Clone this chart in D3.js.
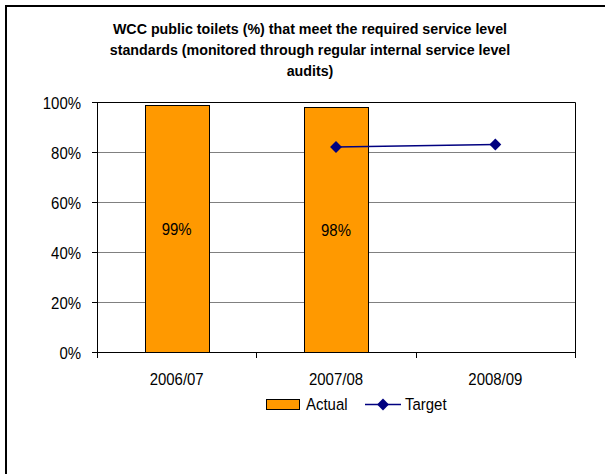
<!DOCTYPE html>
<html>
<head>
<meta charset="utf-8">
<script src="https://cdn.jsdelivr.net/npm/d3@7"></script>
<style>
  html, body { margin: 0; padding: 0; background: #fff; }
  svg { display: block; }
  text { font-family: "Liberation Sans", Arial, sans-serif; fill: #000; }
</style>
</head>
<body>
<svg id="chart" width="605" height="474"></svg>
<script>
// Chart data
const categories = ["2006/07", "2007/08", "2008/09"];
const actualValues = [99, 98, null];
const targetValues = [null, 82, 83];
const yTicks = [0, 20, 40, 60, 80, 100];
const titleLines = [
  "WCC public toilets (%) that meet the required service level",
  "standards (monitored through regular internal service level",
  "audits)"
];

const svg = d3.select("#chart");
const W = 605, H = 474;
const margin = { left: 97, right: 30, top: 102, bottom: 122 };
const plotW = W - margin.left - margin.right;
const plotH = H - margin.top - margin.bottom;

// condensed text: a horizontally squeezed label
const SX = 0.88, FS = 17;
function label(parent, x, y, txt, opts = {}) {
  const g = parent.append("g")
    .attr("transform", `translate(${x},${y}) scale(${opts.sx || SX},1)`);
  return g.append("text")
    .attr("text-anchor", opts.anchor || "start")
    .attr("font-size", opts.size || FS)
    .attr("font-weight", opts.weight || "normal")
    .text(txt);
}

// outer frame (open on the right and bottom edges)
svg.append("rect")
  .attr("x", 6).attr("y", 6)
  .attr("width", W + 10).attr("height", H + 10)
  .attr("fill", "none").attr("stroke", "#000").attr("stroke-width", 2);

// title
titleLines.forEach((t, i) => {
  label(svg, 310, 33.5 + i * 21, t, { anchor: "middle", weight: "bold", size: 15.5, sx: 0.92 });
});

const g = svg.append("g").attr("transform", `translate(${margin.left},${margin.top})`);

const x = d3.scaleBand().domain(categories).range([0, plotW]).paddingInner(0).paddingOuter(0);
const y = d3.scaleLinear().domain([0, 100]).range([plotH, 0]);
const barW = x.bandwidth() * 0.4;

// gridlines
g.append("g").selectAll("line")
  .data(yTicks.filter(d => d > 0 && d < 100))
  .join("line")
  .attr("x1", 0).attr("x2", plotW)
  .attr("y1", d => Math.round(y(d)) + 0.5).attr("y2", d => Math.round(y(d)) + 0.5)
  .attr("stroke", "#808080").attr("stroke-width", 1);

// plot-area top and right border
g.append("path")
  .attr("d", `M0,${y(100) + 0.5}H${plotW + 0.5}V${plotH}`)
  .attr("fill", "none").attr("stroke", "#000").attr("stroke-width", 1);

const bars = categories.map((c, i) => ({ c, v: actualValues[i] })).filter(d => d.v != null);

// bars
g.append("g").selectAll("rect")
  .data(bars)
  .join("rect")
  .attr("x", d => Math.round(x(d.c) + (x.bandwidth() - barW) / 2) + 0.5)
  .attr("y", d => Math.round(y(d.v)) + 0.5)
  .attr("width", Math.round(barW))
  .attr("height", d => plotH - Math.round(y(d.v)))
  .attr("fill", "#FF9900").attr("stroke", "#000").attr("stroke-width", 1);

// bar value labels
bars.forEach(d => {
  label(g, x(d.c) + x.bandwidth() / 2, y(d.v / 2) + 6.5, d.v + "%", { anchor: "middle" });
});

// target line
const targetPts = categories.map((c, i) => ({ c, v: targetValues[i] })).filter(d => d.v != null);
const line = d3.line().x(d => x(d.c) + x.bandwidth() / 2).y(d => y(d.v));
g.append("path").datum(targetPts)
  .attr("d", line)
  .attr("fill", "none").attr("stroke", "#000080").attr("stroke-width", 1.5);
const diamond = d3.symbol().type(d3.symbolDiamond2).size(90);
g.append("g").selectAll("path")
  .data(targetPts)
  .join("path")
  .attr("transform", d => `translate(${x(d.c) + x.bandwidth() / 2},${y(d.v)})`)
  .attr("d", diamond)
  .attr("fill", "#000080");

// y axis
const yAxis = g.append("g")
  .call(d3.axisLeft(y).tickValues(yTicks).tickFormat("").tickSize(5));
yAxis.select(".domain").attr("stroke", "#000");
yAxis.selectAll(".tick line").attr("stroke", "#000");
yTicks.forEach(t => {
  label(g, -16, y(t) + 7, t + "%", { anchor: "end" });
});

// x axis with ticks at category boundaries
const xAxis = g.append("g").attr("transform", `translate(0,${plotH})`);
xAxis.append("line").attr("x1", 0).attr("x2", plotW + 0.5).attr("y1", 0.5).attr("y2", 0.5).attr("stroke", "#000");
const bounds = categories.map(c => x(c)).concat([plotW]);
xAxis.selectAll(".bt").data(bounds).join("line")
  .attr("x1", d => Math.round(d) + 0.5).attr("x2", d => Math.round(d) + 0.5)
  .attr("y1", 0).attr("y2", 6).attr("stroke", "#000");
categories.forEach(c => {
  label(xAxis, x(c) + x.bandwidth() / 2, 33, c, { anchor: "middle" });
});

// legend
const leg = svg.append("g");
leg.append("rect").attr("x", 266.5).attr("y", 399.5).attr("width", 33).attr("height", 10)
  .attr("fill", "#FF9900").attr("stroke", "#000").attr("stroke-width", 1);
label(leg, 306, 410, "Actual");
leg.append("line").attr("x1", 365).attr("x2", 401).attr("y1", 404.5).attr("y2", 404.5)
  .attr("stroke", "#000080").attr("stroke-width", 1.5);
leg.append("path").attr("transform", "translate(383,404.5)").attr("d", diamond).attr("fill", "#000080");
label(leg, 405, 410, "Target");
</script>
</body>
</html>
